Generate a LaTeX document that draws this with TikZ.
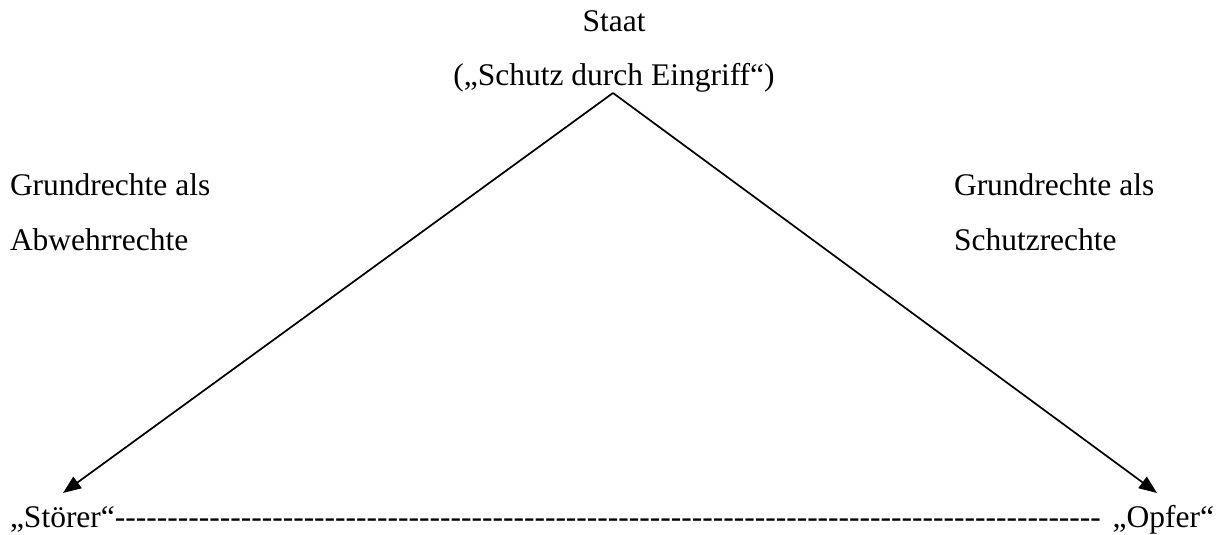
\documentclass[tikz,border=0pt]{standalone}
\usepackage{fontspec}
\setmainfont{Liberation Serif}[Ligatures=TeXOff]
\usetikzlibrary{arrows.meta}
\begin{document}
\begin{tikzpicture}[x=1pt,y=-1pt,
  lbl/.style={inner sep=0pt,outer sep=0pt,font=\fontsize{31.5}{38}\selectfont},
  arr/.style={line width=1.7pt,-{Triangle[length=18pt,width=14pt]}}]
\useasboundingbox (0,0) rectangle (1216,535);
\node[lbl,anchor=base] (staat) at (614,32) {Staat};
\node[lbl,anchor=base] (schutz) at (614,85) {(„Schutz durch Eingriff“)};
\node[lbl,anchor=base west] (gl1) at (10,195) {Grundrechte als};
\node[lbl,anchor=base west] (gl2) at (10,250) {Abwehrrechte};
\node[lbl,anchor=base west] (gr1) at (954,195) {Grundrechte als};
\node[lbl,anchor=base west] (gr2) at (954,250) {Schutzrechte};
\node[lbl,anchor=base west] (storer) at (10,527) {„Störer“};
\node[lbl,anchor=base west] (dashes) at (storer.base east) {----------------------------------------------------------------------------------------------};
\node[lbl,anchor=base east] (opfer) at (1214,527) {„Opfer“};
\coordinate (apex) at (613,93);
\coordinate (tipL) at (63,493);
\coordinate (tipR) at (1157,493);
\draw[arr] (apex) -- (tipL);
\draw[arr] (apex) -- (tipR);
\end{tikzpicture}
\end{document}
